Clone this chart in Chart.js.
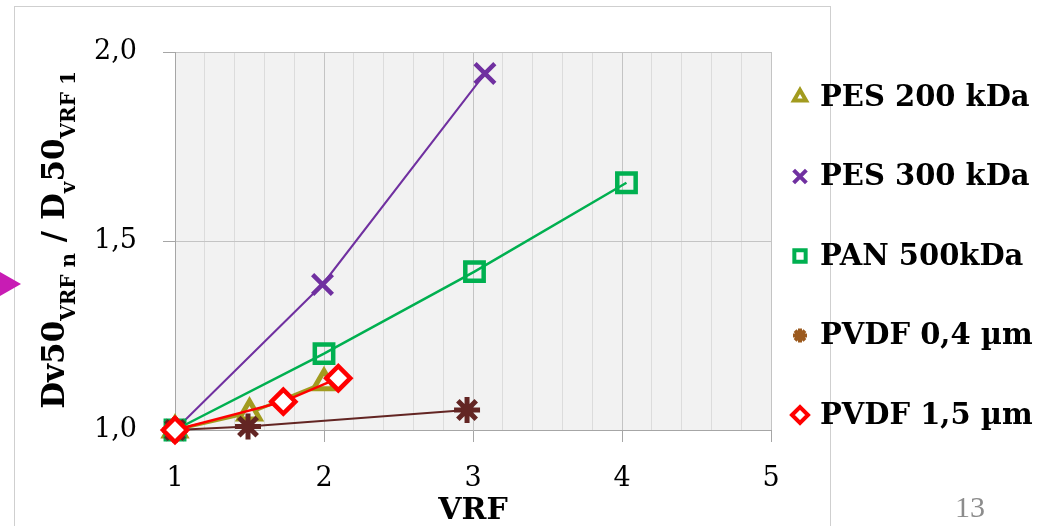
<!DOCTYPE html>
<html lang="fr">
<head>
    <meta charset="UTF-8">
    <title>Dv50 / VRF</title>
    <style>
        body { margin: 0; background: #fff; }
        #box { width: 1053px; height: 526px; }
    </style>
    <script src="https://cdn.jsdelivr.net/npm/chart.js"></script>
</head>
<body>
    <div id="box">
        <canvas id="grafico" width="1053" height="526"></canvas>
    </div>
<script>

    // valeurs
    const nomsSeries = ['PES 200 kDa', 'PES 300 kDa', 'PAN 500kDa', 'PVDF 0,4 µm', 'PVDF 1,5 µm'];

    const pes200X = [1, 1.5, 2];
    const pes200Y = [1.0, 1.045, 1.125];

    const pes300X = [1, 1.99, 3.08];
    const pes300Y = [1.0, 1.385, 1.943];

    const pan500X = [1, 2, 3.01, 4.03];
    const pan500Y = [1.0, 1.202, 1.419, 1.654];

    const pvdf04X = [1, 1.49, 2.96];
    const pvdf04Y = [1.0, 1.009, 1.053];

    const pvdf15X = [1, 1.727, 2.096];
    const pvdf15Y = [1.0, 1.075, 1.137];

    const ticksY = [1.0, 1.5, 2.0];

    const serif = "'DejaVu Serif', 'Liberation Serif', serif";

    const pontos = (xs, ys) => xs.map((x, i) => ({ x: x, y: ys[i] }));
    const inteiro = (v) => Math.abs(v - Math.round(v)) < 1e-6;

    const fundo = {
        id: 'fundo',
        beforeDraw(chart) {
            const { ctx, chartArea: a } = chart;
            ctx.save();
            ctx.fillStyle = '#fff';
            ctx.fillRect(0, 0, chart.width, chart.height);
            ctx.strokeStyle = '#cfcfcf';
            ctx.lineWidth = 1;
            ctx.strokeRect(14.5, 6.5, 816, 600);
            ctx.fillStyle = '#f2f2f2';
            ctx.fillRect(a.left, a.top, a.right - a.left, a.bottom - a.top);
            // petit triangle de la diapo
            ctx.fillStyle = '#c81cb4';
            ctx.beginPath();
            ctx.moveTo(0, 272);
            ctx.lineTo(21, 284);
            ctx.lineTo(0, 296);
            ctx.closePath();
            ctx.fill();
            ctx.restore();
        }
    };

    const legende = {
        id: 'legende',
        afterDraw(chart) {
            const ctx = chart.ctx;
            ctx.save();
            chart.data.datasets.forEach((ds, i) => {
                const y = 97 + i * 79.5;
                const cor = ds.corLegenda || ds.pointBorderColor;
                ctx.strokeStyle = cor;
                ctx.fillStyle = ds.pointStyle === 'crossRot' || ds.pointStyle === 'star' ? cor : '#fff';
                ctx.lineWidth = 4;
                Chart.helpers.drawPoint(ctx, { pointStyle: ds.pointStyle, radius: ds.raioLegenda, borderWidth: 4, rotation: 0 }, 800, y);
                ctx.fillStyle = '#000';
                ctx.font = 'bold 29px ' + serif;
                ctx.textBaseline = 'middle';
                ctx.textAlign = 'left';
                ctx.fillText(ds.label, 820, y + 1);
            });

            // titre de l'axe Y avec indices
            const partes = [
                { t: 'Dv50', sub: false },
                { t: 'VRF n', sub: true },
                { t: ' / D', sub: false },
                { t: 'v', sub: true },
                { t: '50', sub: false },
                { t: 'VRF 1', sub: true }
            ];
            const fonte = (sub) => sub ? 'bold 20px ' + serif : 'bold 31px ' + serif;
            let total = 0;
            partes.forEach(p => { ctx.font = fonte(p.sub); total += ctx.measureText(p.t).width; });
            ctx.translate(64, 240);
            ctx.rotate(-Math.PI / 2);
            ctx.textBaseline = 'alphabetic';
            let x = -total / 2;
            partes.forEach(p => {
                ctx.font = fonte(p.sub);
                ctx.fillText(p.t, x, p.sub ? 11 : 0);
                x += ctx.measureText(p.t).width;
            });
            ctx.setTransform(1, 0, 0, 1, 0, 0);

            ctx.fillStyle = '#8c8c8c';
            ctx.font = "30px 'Liberation Serif', serif";
            ctx.textAlign = 'center';
            ctx.textBaseline = 'middle';
            ctx.fillText('13', 970, 509);
            ctx.restore();
        }
    };

    const series = [
        {
            label: nomsSeries[0], data: pontos(pes200X, pes200Y), borderColor: '#a29b1f', borderWidth: 3,
            pointStyle: 'triangle', pointRadius: 12, pointBorderWidth: 5, pointBorderColor: '#a29b1f',
            pointBackgroundColor: '#f2f2f2', raioLegenda: 7, order: 4
        },
        {
            label: nomsSeries[1], data: pontos(pes300X, pes300Y), borderColor: '#7030a0', borderWidth: 2,
            pointStyle: 'crossRot', pointRadius: 14, pointBorderWidth: 4.5, pointBorderColor: '#7030a0',
            pointBackgroundColor: '#7030a0', raioLegenda: 9, order: 3
        },
        {
            label: nomsSeries[2], data: pontos(pan500X, pan500Y), borderColor: '#00b050', borderWidth: 2.5,
            pointStyle: 'rect', pointRadius: 13, pointBorderWidth: 4.5, pointBorderColor: '#00b050',
            pointBackgroundColor: 'rgba(242,242,242,0)', raioLegenda: 8, order: 2
        },
        {
            label: nomsSeries[3], data: pontos(pvdf04X, pvdf04Y), borderColor: '#632523', borderWidth: 2,
            pointStyle: 'star', pointRadius: 13, pointBorderWidth: 5, pointBorderColor: '#632523',
            pointBackgroundColor: '#632523', corLegenda: '#9c5a1e', raioLegenda: 7, order: 1
        },
        {
            label: nomsSeries[4], data: pontos(pvdf15X, pvdf15Y), borderColor: '#ff0000', borderWidth: 2.5,
            pointStyle: 'rectRot', pointRadius: 12, pointBorderWidth: 4.5, pointBorderColor: '#ff0000',
            pointBackgroundColor: '#fff', raioLegenda: 8, order: 0
        }
    ];

    new Chart(document.getElementById('grafico'), {
        type: 'scatter',
        data: {
            datasets: series.map(s => Object.assign({ showLine: true, tension: 0, clip: false, pointHoverRadius: s.pointRadius }, s))
        },
        options: {
            responsive: false,
            animation: false,
            devicePixelRatio: 1,
            layout: { padding: { left: 0, top: 52, right: 282, bottom: 0 } },
            plugins: {
                legend: { display: false },
                tooltip: { enabled: false }
            },
            scales: {
                x: {
                    type: 'linear',
                    min: 1,
                    max: 5,
                    afterFit: (s) => { s.height = 96; },
                    ticks: {
                        stepSize: 0.2,
                        maxTicksLimit: 40,
                        autoSkip: false,
                        maxRotation: 0,
                        padding: 21,
                        color: '#000',
                        font: { family: serif, size: 27 },
                        callback: (v) => inteiro(v) ? String(Math.round(v)) : ''
                    },
                    grid: {
                        color: (c) => inteiro(c.tick.value) ? '#c4c4c4' : '#dcdcdc',
                        tickColor: (c) => inteiro(c.tick.value) ? '#a6a6a6' : 'rgba(0,0,0,0)',
                        tickLength: 12
                    },
                    border: { color: '#a6a6a6' },
                    title: {
                        display: true,
                        text: 'VRF',
                        color: '#000',
                        font: { family: serif, size: 30, weight: 'bold', lineHeight: 1 },
                        padding: { top: 0, bottom: 0 }
                    }
                },
                y: {
                    min: 1,
                    max: 2,
                    afterFit: (s) => { s.width = 175; },
                    afterBuildTicks: (s) => { s.ticks = ticksY.map(v => ({ value: v })); },
                    ticks: {
                        padding: 26,
                        color: '#000',
                        font: { family: serif, size: 27 },
                        callback: (v) => v.toFixed(1).replace('.', ',')
                    },
                    grid: { color: '#c4c4c4', tickColor: '#a6a6a6', tickLength: 12 },
                    border: { color: '#a6a6a6' }
                }
            }
        },
        plugins: [fundo, legende]
    });
</script>
</body>
</html>
